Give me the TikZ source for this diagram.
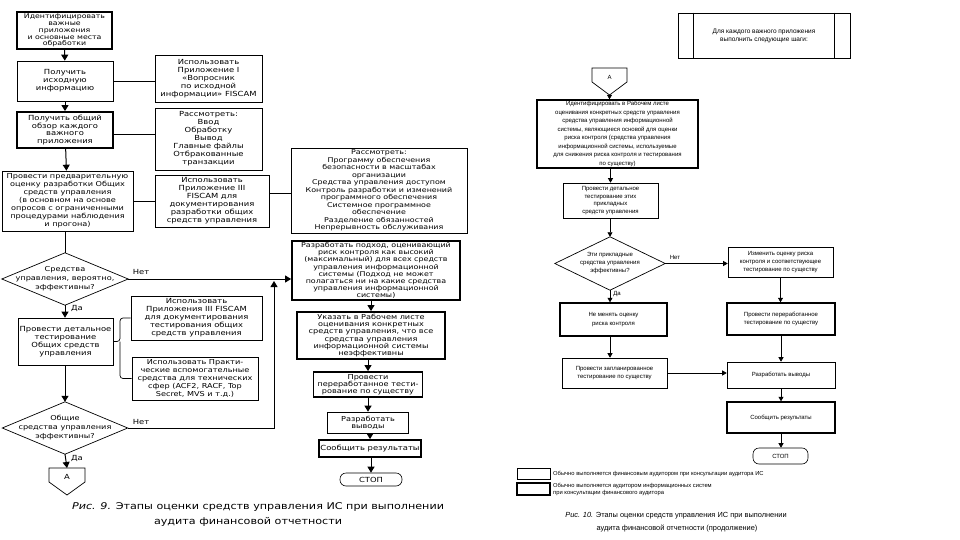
\documentclass[tikz,border=0pt]{standalone}
\usepackage{fontspec}
\setmainfont{DejaVu Sans}
\newfontfamily\lf{DejaVu Sans}[FakeStretch=1.2]
\newfontfamily\rf{Liberation Sans}
\usetikzlibrary{arrows.meta}
\begin{document}
\begin{tikzpicture}[x=1pt,y=-1pt,
  box/.style={draw, rectangle, inner sep=1pt, align=center, line width=0.6pt},
  thk/.style={line width=1.8pt},
  thkr/.style={line width=1.4pt},
  lt/.style={font=\lf\fontsize{7}{8}\selectfont},
  rt/.style={font=\rf\fontsize{6}{8.5}\selectfont},
  ghost/.style={rectangle, inner sep=0pt, align=center},
  ln/.style={line width=0.7pt},
  arL/.style={-{Triangle[length=6pt,width=7pt]}, line width=1pt},
  arR/.style={-{Triangle[length=4.5pt,width=5pt]}, line width=0.7pt},
  lab/.style={font=\lf\fontsize{7}{8}\selectfont, inner sep=0pt},
  ]
\useasboundingbox[fill=white] (0,0) rectangle (960,540);

% ---------------- left diagram ----------------
\node[box,thk,minimum width=95pt,minimum height=37pt,font=\lf\fontsize{6.5}{6.9}\selectfont] (b1) at (64.5,30.5)
  {Идентифицировать\\важные\\приложения\\и основные места\\обработки};
\node[box,lt,minimum width=96pt,minimum height=40pt] (b2) at (65,81)
  {Получить\\исходную\\информацию};
\node[box,thk,lt,minimum width=96pt,minimum height=36pt,font=\lf\fontsize{7}{7.6}\selectfont] (b3) at (65,130)
  {Получить общий\\обзор каждого\\важного\\приложения};
\node[box,lt,minimum width=131pt,minimum height=60pt,font=\lf\fontsize{6.8}{8}\selectfont] (b4) at (67.5,201)
  {Провести предварительную\\оценку разработки Общих\\средств управления\\(в основном на основе\\опросов с ограниченными\\процедурами наблюдения\\и прогона)};
\node[box,lt,minimum width=107pt,minimum height=47pt] (bI) at (208.5,78.5)
  {Использовать\\Приложение I\\«Вопросник\\по исходной\\информации» FISCAM};
\node[box,lt,minimum width=107pt,minimum height=62pt] (bR1) at (208.5,139)
  {Рассмотреть:\\Ввод\\Обработку\\Вывод\\Главные файлы\\Отбракованные\\транзакции};
\node[box,lt,minimum width=114pt,minimum height=52pt] (bIII) at (212,201)
  {Использовать\\Приложение III\\FISCAM для\\документирования\\разработки общих\\средств управления};
\node[box,minimum width=176pt,minimum height=85pt,font=\lf\fontsize{6.6}{7.5}\selectfont] (bR2) at (379,190.5)
  {Рассмотреть:\\Программу обеспечения\\безопасности в масштабах\\организации\\Средства управления доступом\\Контроль разработки и изменений\\программного обеспечения\\Системное программное\\обеспечение\\Разделение обязанностей\\Непрерывность обслуживания};
\node[box,thk,minimum width=168pt,minimum height=59pt,font=\lf\fontsize{6.6}{7.2}\selectfont] (bDev) at (376,270.5)
  {Разработать подход, оценивающий\\риск контроля как высокий\\(максимальный) для всех средств\\управления информационной\\системы (Подход не может\\полагаться ни на какие средства\\управления информационной\\системы)};
\node[box,thk,minimum width=148pt,minimum height=47pt,font=\lf\fontsize{6.8}{7.3}\selectfont] (bInd) at (371,335.5)
  {Указать в Рабочем листе\\оценивания конкретных\\средств управления, что все\\средства управления\\информационной системы\\неэффективны};
\node[box,thk,minimum width=109pt,minimum height=25pt,font=\lf\fontsize{6.8}{7}\selectfont] (bRev) at (368,384.5)
  {Провести\\переработанное тести-\\рование по существу};
\node[box,minimum width=81pt,minimum height=21pt,font=\lf\fontsize{6.8}{7}\selectfont] (bConc) at (368,422.5)
  {Разработать\\выводы};
\node[box,thk,lt,minimum width=102pt,minimum height=17pt] (bRep) at (370,448.5)
  {Сообщить результаты};
\node[box,lt,rounded corners=6pt,minimum width=62pt,minimum height=13pt] (bStop) at (371,479.5)
  {СТОП};

% diamonds
\node[ghost,minimum width=126pt,minimum height=52pt,font=\lf\fontsize{6.8}{9}\selectfont] (d1) at (65,279)
  {Средства\\управления, вероятно,\\эффективны?};
\draw[ln] (d1.north) -- (d1.east) -- (d1.south) -- (d1.west) -- cycle;
\node[box,lt,minimum width=95pt,minimum height=47pt] (b5) at (65.5,341.5)
  {Провести детальное\\тестирование\\Общих средств\\управления};
\node[box,lt,minimum width=131pt,minimum height=44pt] (bT) at (196.5,318)
  {Использовать\\Приложения III FISCAM\\для документирования\\тестирования общих\\средств управления};
\node[box,lt,minimum width=126pt,minimum height=43pt,font=\lf\fontsize{6.8}{8}\selectfont] (bP) at (195,378.5)
  {Использовать Практи-\\ческие вспомогательные\\средства для технических\\сфер (ACF2, RACF, Top\\Secret, MVS и т.д.)};
\node[ghost,minimum width=125pt,minimum height=52pt,font=\lf\fontsize{6.8}{9}\selectfont] (d2) at (65,428)
  {Общие\\средства управления\\эффективны?};
\draw[ln] (d2.north) -- (d2.east) -- (d2.south) -- (d2.west) -- cycle;

% off-page connector A (left)
\draw[ln] (49,468) -- (85,468) -- (85,482) -- (67,495) -- (49,482) -- cycle;
\node[lab] (aL) at (67,477) {А};
\coordinate (aLtop) at (67,468);

% connectors left
\draw[arL] (b1) -- (b2);
\draw[arL] (b2) -- (b3);
\draw[arL] (b3) -- (b4);
\draw[ln] (b4.south -| d1.north) -- (d1.north);
\draw[arL] (d1.south) -- (b5.north -| d1.south);
\draw[arL] (b5.south -| d2.north) -- (d2.north);
\draw[arL] (d2.south) -- (aLtop);
\draw[ln] (b2.east) -- (b2.east -| bI.west);
\draw[ln] ([yshift=-4pt]b3.east) -- ([yshift=-4pt]b3.east -| bR1.west);
\draw[ln] (b4.east) -- (b4.east -| bIII.west);
\draw[ln] ([yshift=8pt]bIII.east) -- ([yshift=8pt]bIII.east -| bR2.west);
\draw[arL] (d1.east) -- (d1.east -| bDev.west);
\coordinate (jn) at (274,281);
\draw[arL] (d2.east) -| (jn);
\draw[ln, rounded corners=3pt] (bT.west) -| (120,341.5) -- (b5.east);
\draw[ln, rounded corners=3pt] (bP.west) -| (120,341.5);
\draw[arL] (bDev.south -| bInd) -- (bInd);
\draw[arL] (bInd.south -| bRev) -- (bRev);
\draw[arL] (bRev) -- (bConc);
\draw[arL] (bConc.south -| bRep) -- (bRep);
\draw[arL] (bRep.south -| bStop) -- (bStop);

\node[lab] (n1) at (141,272) {Нет};
\node[lab] (y1) at (77,308) {Да};
\node[lab] (n2) at (141,422) {Нет};
\node[lab] (y2) at (77,458) {Да};

\node[inner sep=0pt,font=\lf\fontsize{9.3}{11}\selectfont] (cap1) at (258,507)
  {\textit{Рис. 9.} Этапы оценки средств управления ИС при выполнении};
\node[inner sep=0pt,font=\lf\fontsize{9.3}{11}\selectfont] (cap2) at (248,522)
  {аудита финансовой отчетности};

% ---------------- right diagram ----------------
\node[box,line width=0.9pt,minimum width=172pt,minimum height=45pt,font=\rf\fontsize{6.5}{8}\selectfont] (top) at (764,35.5)
  {Для каждого важного приложения\\выполнить следующие шаги:};
\draw[line width=0.9pt] ([xshift=16pt]top.north west) -- ([xshift=16pt]top.south west);
\draw[line width=0.9pt] ([xshift=-16pt]top.north east) -- ([xshift=-16pt]top.south east);

\draw[ln] (592,68) -- (627,68) -- (627,82) -- (609.5,95) -- (592,82) -- cycle;
\node[font=\rf\fontsize{6}{7}\selectfont,inner sep=0pt] (aR) at (609.5,77) {А};
\coordinate (aRbot) at (609.5,95);

\node[box,thkr,rt,minimum width=161pt,minimum height=68pt] (ident) at (617.5,134)
  {Идентифицировать в Рабочем листе\\оценивания конкретных средств управления\\средства управления информационной\\системы, являющиеся основой для оценки\\риска контроля (средства управления\\информационной системы, используемые\\для снижения риска контроля и тестирования\\по существу)};
\node[box,rt,minimum width=95pt,minimum height=35pt,font=\rf\fontsize{6}{7.8}\selectfont] (det) at (610.5,200.5)
  {Провести детальное\\тестирование этих\\прикладных\\средств управления};
\node[ghost,rt,minimum width=110pt,minimum height=53pt,font=\rf\fontsize{6}{8}\selectfont] (d3) at (610,263.5)
  {Эти прикладные\\средства управления\\эффективны?};
\draw[ln] (d3.north) -- (d3.east) -- (d3.south) -- (d3.west) -- cycle;
\node[box,rt,minimum width=105pt,minimum height=30pt,font=\rf\fontsize{6}{7.8}\selectfont] (chg) at (780.5,262)
  {Изменить оценку риска\\контроля и соответствующее\\тестирование по существу};
\node[box,thkr,rt,minimum width=107pt,minimum height=33pt] (keep) at (613.5,319.5)
  {Не менять оценку\\риска контроля};
\node[box,rt,minimum width=105pt,minimum height=30pt] (plan) at (614.5,373)
  {Провести запланированное\\тестирование по существу};
\node[box,thkr,rt,minimum width=108pt,minimum height=32pt] (rev) at (781,319)
  {Провести переработанное\\тестирование по существу};
\node[box,rt,minimum width=108pt,minimum height=26pt] (conc) at (781,375)
  {Разработать выводы};
\node[box,thkr,rt,minimum width=108pt,minimum height=31pt] (rep) at (781,417.5)
  {Сообщить результаты};
\node[box,rt,rounded corners=6pt,minimum width=55pt,minimum height=16pt] (stop) at (780.5,456)
  {СТОП};

\draw[arR] (aRbot) -- (aRbot |- ident.north);
\draw[arR] (ident.south -| det) -- (det);
\draw[arR] (det.south -| d3.north) -- (d3.north);
\draw[arR] (d3.east) -- (d3.east -| chg.west);
\draw[arR] (d3.south) -- (d3.south |- keep.north);
\draw[arR] (d3.south |- keep.south) -- (d3.south |- plan.north);
\draw[arR] (chg.south) -- (chg.south |- rev.north);
\draw[arR] (rev.south) -- (conc.north);
\draw[arR] (plan.east) -- (plan.east -| conc.west);
\draw[arR] (conc.south) -- (rep.north);
\draw[arR] (rep.south) -- (rep.south |- stop.north);

\node[font=\rf\fontsize{6}{7}\selectfont,inner sep=0pt] (n3) at (675,257) {Нет};
\node[font=\rf\fontsize{6}{7}\selectfont,inner sep=0pt] (y3) at (617,294) {Да};

% legend
\node[box,minimum width=33pt,minimum height=11pt] (lg1) at (533.5,473.5) {};
\node[box,line width=1.1pt,minimum width=33pt,minimum height=12pt] (lg2) at (533.5,489) {};
\node[anchor=west,inner sep=0pt,font=\rf\fontsize{5.8}{7}\selectfont] (lt1) at (553,473.5)
  {Обычно выполняется финансовым аудитором при консультации аудитора ИС};
\node[anchor=west,inner sep=0pt,align=left,font=\rf\fontsize{5.8}{7}\selectfont] (lt2) at (553,489)
  {Обычно выполняется аудитором информационных систем\\при консультации финансового аудитора};

\node[inner sep=0pt,font=\rf\fontsize{7.4}{9}\selectfont] (cap3) at (676,516)
  {\textit{Рис. 10.} Этапы оценки средств управления ИС при выполнении};
\node[inner sep=0pt,font=\rf\fontsize{7.4}{9}\selectfont] (cap4) at (677,529)
  {аудита финансовой отчетности (продолжение)};
\end{tikzpicture}
\end{document}
